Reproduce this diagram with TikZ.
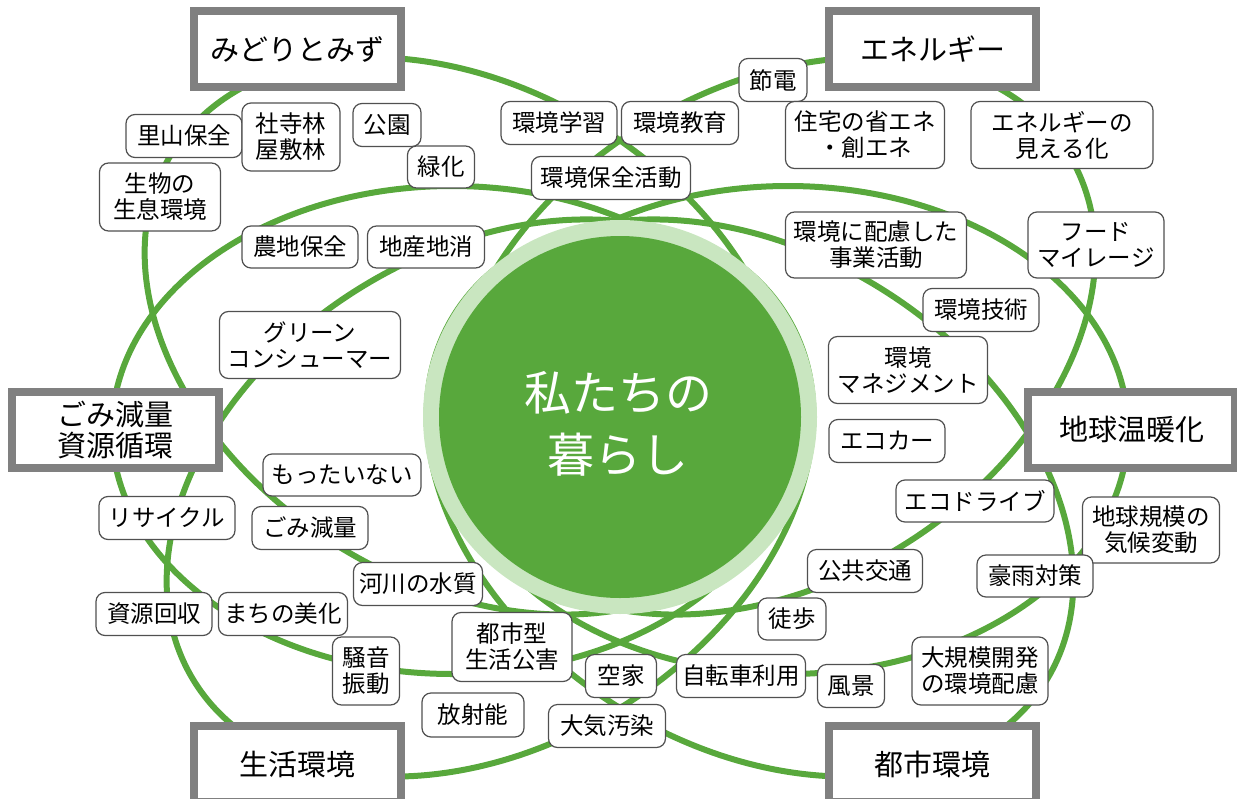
\documentclass[tikz,border=0pt]{standalone}
\usepackage{fontspec}
\setmainfont{Noto Sans CJK JP}
\definecolor{lg}{RGB}{88,168,60}
\definecolor{ringc}{RGB}{201,230,192}
\definecolor{framec}{RGB}{128,128,128}
\definecolor{kwline}{RGB}{80,80,80}
\tikzset{
 ell/.style={draw=lg, line width=6pt},
 kw/.style={draw=kwline, line width=1.2pt, fill=white, rounded corners=9pt, inner sep=0pt, align=center, font=\fontsize{23.5}{26}\selectfont},
 theme/.style={draw=framec, line width=8pt, fill=white, inner sep=0pt, align=center, font=\fontsize{29}{31}\selectfont, minimum width=207pt, minimum height=76pt},
}
\newcommand\kwbox[6]{\node[kw, minimum width=#4pt, minimum height=#5pt] (#1) at (#2,#3) {#6};}
\begin{document}
\begin{tikzpicture}[x=1pt,y=-1pt]
\useasboundingbox (0,0) rectangle (1237,798);
\clip (0,0) rectangle (1237,798);
% ellipses
\draw[ell, rotate around={-31.7:(468,336)}] (468,336) ellipse [x radius=348pt, y radius=247pt];
\draw[ell, rotate around={31.7:(772,336)}] (772,336) ellipse [x radius=348pt, y radius=247pt];
\draw[ell, rotate around={31.7:(490,498)}] (490,498) ellipse [x radius=348pt, y radius=247pt];
\draw[ell, rotate around={-31.7:(750,498)}] (750,498) ellipse [x radius=348pt, y radius=247pt];
\draw[ell] (452,430) ellipse [x radius=340pt, y radius=244pt];
\draw[ell] (788,430) ellipse [x radius=340pt, y radius=244pt];
% centre
\fill[ringc] (620,417) circle (197pt);
\fill[lg] (620,417) circle (181pt);
\node[text=white, align=center, font=\fontsize{47}{62}\selectfont] (center) at (618,424) {私たちの\\暮らし};
% themes
\node[theme] (midori) at (297.5,49) {みどりとみず};
\node[theme] (energy) at (932.5,49) {エネルギー};
\node[theme] (gomi) at (115.5,429.5) {ごみ減量\\資源循環};
\node[theme] (ondanka) at (1131.5,429.5) {地球温暖化};
\node[theme] (seikatsu) at (297.5,764) {生活環境};
\node[theme] (toshi) at (932.5,764) {都市環境};
% keywords
\kwbox{satoyama}{184}{136}{116}{43}{里山保全}
\kwbox{shaji}{291}{137}{98}{68}{社寺林\\屋敷林}
\kwbox{koen}{387}{125}{68}{43}{公園}
\kwbox{ryokka}{441}{167}{67}{42}{緑化}
\kwbox{seibutsu}{160}{197}{121}{68}{生物の\\生息環境}
\kwbox{nochi}{300}{247}{116}{42}{農地保全}
\kwbox{chisan}{426}{247}{117}{42}{地産地消}
\kwbox{gakushu}{559}{123}{116}{43}{環境学習}
\kwbox{kyoiku}{680}{123}{117}{43}{環境教育}
\kwbox{hozen}{611}{178}{159}{43}{環境保全活動}
\kwbox{setsuden}{773}{80}{68}{43}{節電}
\kwbox{jutaku}{865}{135}{159}{67}{住宅の省エネ\\・創エネ}
\kwbox{mieru}{1062}{135}{182}{67}{エネルギーの\\見える化}
\kwbox{jigyo}{876}{245}{181}{66}{環境に配慮した\\事業活動}
\kwbox{food}{1096}{245}{136}{66}{フード\\マイレージ}
\kwbox{gijutsu}{981}{310}{116}{43}{環境技術}
\kwbox{manage}{908}{370}{159}{67}{環境\\マネジメント}
\kwbox{ecocar}{887}{441}{116}{43}{エコカー}
\kwbox{ecodrive}{975}{501}{158}{42}{エコドライブ}
\kwbox{kikou}{1151}{530}{137}{66}{地球規模の\\気候変動}
\kwbox{gou}{1035}{576}{116}{42}{豪雨対策}
\kwbox{kokyo}{865}{571}{115}{43}{公共交通}
\kwbox{toho}{792}{619}{68}{42}{徒歩}
\kwbox{daikibo}{980}{671}{136}{68}{大規模開発\\の環境配慮}
\kwbox{fukei}{851}{686}{67}{43}{風景}
\kwbox{jitensha}{741}{676}{129}{43}{自転車利用}
\kwbox{akiya}{621}{676}{71}{43}{空家}
\kwbox{taiki}{607}{726}{117}{43}{大気汚染}
\kwbox{toshigata}{512}{647}{120}{69}{都市型\\生活公害}
\kwbox{hosha}{473}{715}{102}{44}{放射能}
\kwbox{kasen}{418}{584}{129}{43}{河川の水質}
\kwbox{soon}{366}{671}{67}{68}{騒音\\振動}
\kwbox{machi}{283}{614}{129}{43}{まちの美化}
\kwbox{shigen}{154}{614}{116}{43}{資源回収}
\kwbox{recycle}{167}{518}{136}{43}{リサイクル}
\kwbox{gomis}{310}{528}{116}{43}{ごみ減量}
\kwbox{mottai}{342}{475}{158}{42}{もったいない}
\kwbox{green}{310}{345}{181}{67}{グリーン\\コンシューマー}
\end{tikzpicture}
\end{document}
